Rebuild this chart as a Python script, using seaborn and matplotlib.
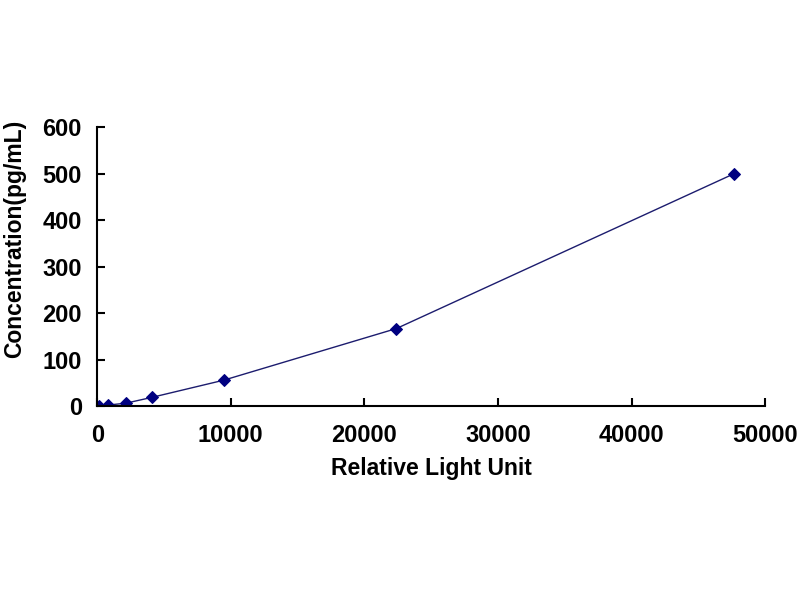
import matplotlib
matplotlib.use("Agg")
import matplotlib.pyplot as plt
import seaborn as sns
import pandas as pd

# Data
rlu = [100, 830, 2160, 4080, 9470, 22400, 47700]
concentration = [0, 2.06, 6.17, 18.52, 55.56, 166.67, 500]
x_ticks = [0, 10000, 20000, 30000, 40000, 50000]
y_ticks = [0, 100, 200, 300, 400, 500, 600]

df = pd.DataFrame({"Relative Light Unit": rlu, "Concentration(pg/mL)": concentration})

sns.set_style("white")
plt.rcParams["font.family"] = ["Liberation Sans", "DejaVu Sans"]
plt.rcParams["font.weight"] = "bold"
plt.rcParams["text.color"] = "black"
plt.rcParams["axes.labelcolor"] = "black"
plt.rcParams["xtick.color"] = "black"
plt.rcParams["ytick.color"] = "black"

fig = plt.figure(figsize=(8, 6), dpi=100)
ax = fig.add_axes([0.1215, 0.3233, 0.835, 0.465])

sns.lineplot(data=df, x="Relative Light Unit", y="Concentration(pg/mL)",
             color="#1c1c6e", linewidth=1.0, marker="D", markersize=6,
             markerfacecolor="#000080", markeredgecolor="#000080", ax=ax)

ax.set_xlim(0, 50000)
ax.set_ylim(0, 600)
ax.set_xticks(x_ticks)
ax.set_yticks(y_ticks)
ax.set_xticklabels([str(t) for t in x_ticks], fontsize=17, fontweight="bold")
ax.set_yticklabels([str(t) for t in y_ticks], fontsize=17, fontweight="bold")

for side in ["top", "right"]:
    ax.spines[side].set_visible(False)
for side in ["left", "bottom"]:
    ax.spines[side].set_color("black")
    ax.spines[side].set_linewidth(1.5)

ax.tick_params(axis="both", direction="in", length=6, width=1.5, color="black",
               bottom=True, left=True, labelcolor="black")
ax.tick_params(axis="x", pad=13)
ax.tick_params(axis="y", pad=11)

ax.set_xlabel("Relative Light Unit", fontsize=16.5, fontweight="bold", labelpad=7,
              color="black")
ax.set_ylabel("Concentration(pg/mL)", fontsize=16.5, fontweight="bold", color="black")
ax.yaxis.set_label_coords(-0.106, 0.60)
ax.grid(False)

fig.savefig("out.png", dpi=100, facecolor="white")
